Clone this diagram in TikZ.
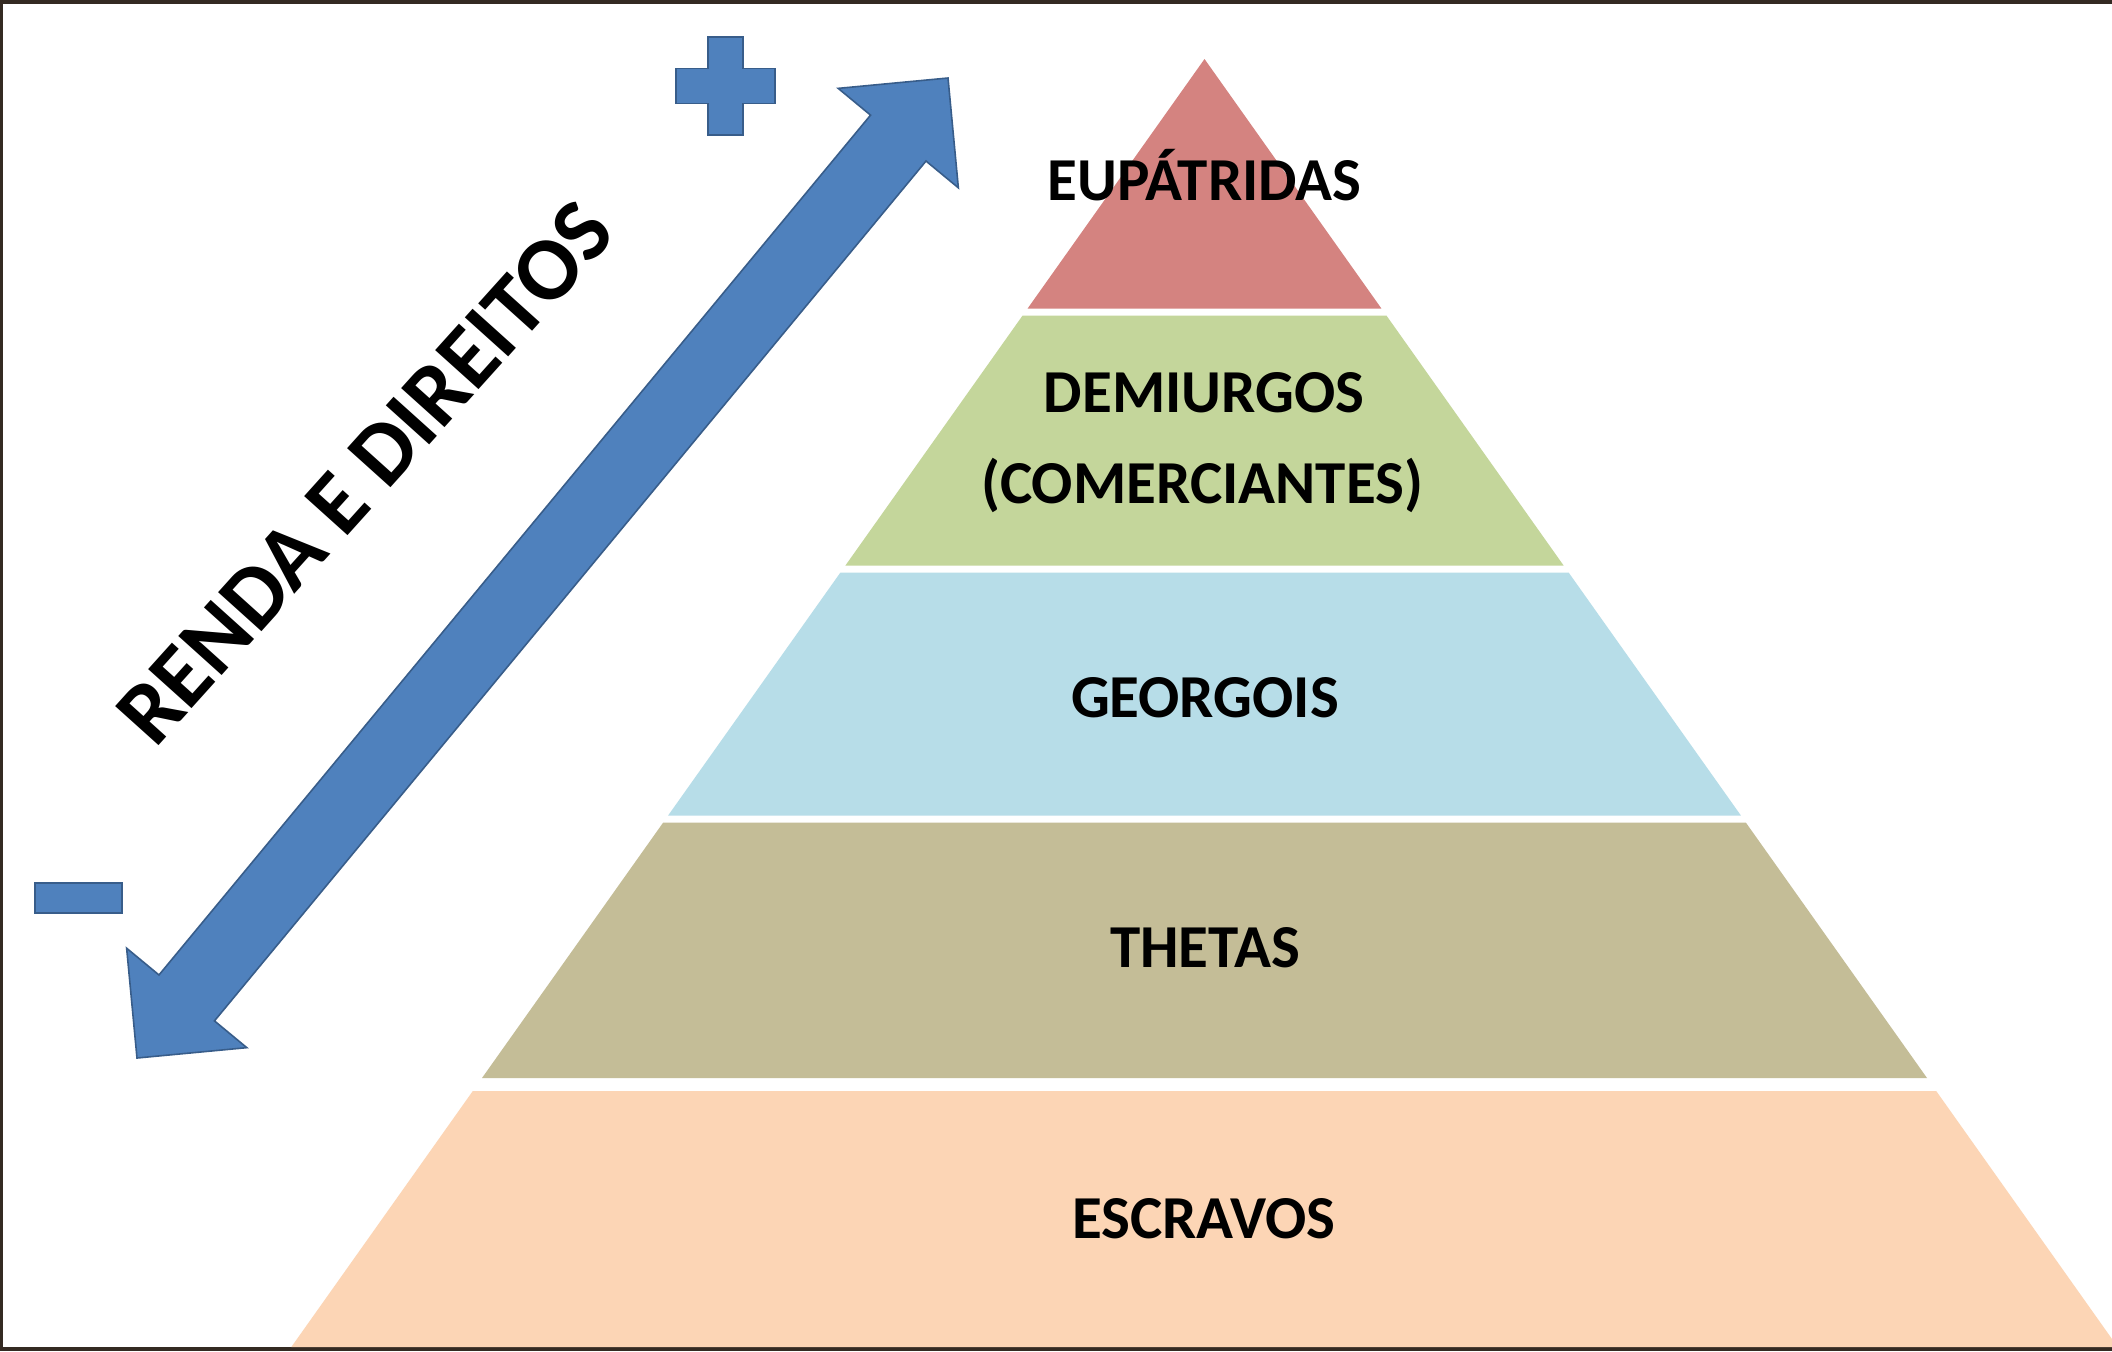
\documentclass[tikz,border=0pt]{standalone}
\usepackage{fontspec}
\setmainfont{Carlito}
\usetikzlibrary{calc}
\definecolor{tierA}{RGB}{212,131,128}
\definecolor{tierB}{RGB}{196,214,155}
\definecolor{tierC}{RGB}{183,221,232}
\definecolor{tierD}{RGB}{196,189,151}
\definecolor{tierE}{RGB}{252,213,181}
\definecolor{arrowfill}{RGB}{79,129,189}
\definecolor{arrowline}{RGB}{56,93,138}
\definecolor{framecol}{RGB}{52,42,34}
\begin{document}
\begin{tikzpicture}[x=0.5pt,y=-0.5pt,
  tierlabel/.style={font=\fontsize{30.5}{36}\selectfont\bfseries, text=black, inner sep=0pt, anchor=base},
  bluesh/.style={fill=arrowfill, draw=arrowline, line width=0.8pt, line join=miter},
]
\useasboundingbox (0,0) rectangle (2112,1351);
% frame and page
\fill[framecol] (0,0) rectangle (2112,1351);
\fill[white] (3,4) rectangle (2112,1347);

% pyramid tiers
\fill[tierA] (1204.5,59) -- (1381.4,308.5) -- (1027.6,308.5) -- cycle;
\fill[tierB] (1022.6,315.5) -- (1386.4,315.5) -- (1563.6,565.5) -- (845.4,565.5) -- cycle;
\fill[tierC] (840.4,572.5) -- (1568.6,572.5) -- (1740.9,815.5) -- (668.1,815.5) -- cycle;
\fill[tierD] (663.2,822.5) -- (1745.8,822.5) -- (1927,1078) -- (482,1078) -- cycle;
\fill[tierE] (472.8,1091) -- (1936.2,1091) -- (2112,1339) -- (2112,1347) -- (291.3,1347) -- cycle;

% labels
\node[tierlabel] (eup) at (1204.5,200) {EUPÁTRIDAS};
\node[tierlabel] (demi) at (1204,412) {DEMIURGOS};
\node[tierlabel] (comer) at (1202,503) {(COMERCIANTES)};
\node[tierlabel] (geo) at (1205,717) {GEORGOIS};
\node[tierlabel] (the) at (1205,967) {THETAS};
\node[tierlabel] (esc) at (1204,1238) {ESCRAVOS};

% double block arrow
\coordinate (hi) at (948,78);
\coordinate (lo) at (137,1058);
\coordinate (hb) at ($(hi)!39pt!(lo)$);
\coordinate (lb) at ($(lo)!39pt!(hi)$);
\coordinate (hbP) at ($(hb)!39pt!90:(hi)$);
\coordinate (hbQ) at ($(hb)!39pt!-90:(hi)$);
\coordinate (hnP) at ($(hb)!18pt!90:(hi)$);
\coordinate (hnQ) at ($(hb)!18pt!-90:(hi)$);
\coordinate (lbP) at ($(lb)!39pt!-90:(lo)$);
\coordinate (lbQ) at ($(lb)!39pt!90:(lo)$);
\coordinate (lnP) at ($(lb)!18pt!-90:(lo)$);
\coordinate (lnQ) at ($(lb)!18pt!90:(lo)$);
\draw[bluesh] (hi) -- (hbP) -- (hnP) -- (lnP) -- (lbP) -- (lo) -- (lbQ) -- (lnQ) -- (hnQ) -- (hbQ) -- cycle;

% plus sign
\draw[bluesh] (708,37) -- (743,37) -- (743,68.5) -- (775,68.5) -- (775,103.5) -- (743,103.5) -- (743,135) -- (708,135) -- (708,103.5) -- (676,103.5) -- (676,68.5) -- (708,68.5) -- cycle;
% minus sign
\draw[bluesh] (35,883) rectangle (122,913);

% rotated caption
\node[font=\fontsize{45}{52}\selectfont\bfseries, rotate=48, inner sep=0pt] (renda) at (365,473) {RENDA E DIREITOS};
\end{tikzpicture}
\end{document}
